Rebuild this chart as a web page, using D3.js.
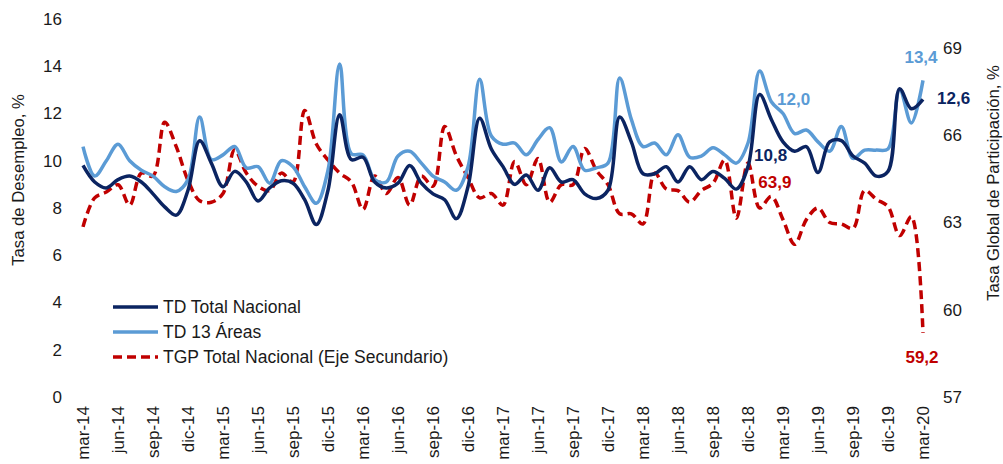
<!DOCTYPE html>
<html>
<head>
<meta charset="utf-8">
<script src="https://cdn.jsdelivr.net/npm/d3@7"></script>
<style>
  html, body { margin: 0; padding: 0; background: #fff; }
  svg { display: block; font-family: "Liberation Sans", Arial, sans-serif; }
</style>
</head>
<body>
<svg id="chart" width="1003" height="464"></svg>
<script>
// ---- Data ----
const monthNames = ["ene","feb","mar","abr","may","jun","jul","ago","sep","oct","nov","dic"];
// monthly categories mar-14 .. mar-20
const categories = [];
for (let k = 0; k < 73; k++) {
  const m = (2 + k) % 12;
  const yr = 14 + Math.floor((2 + k) / 12);
  categories.push(monthNames[m] + "-" + yr);
}
const tickLabels = ["mar-14","jun-14","sep-14","dic-14","mar-15","jun-15","sep-15","dic-15",
  "mar-16","jun-16","sep-16","dic-16","mar-17","jun-17","sep-17","dic-17",
  "mar-18","jun-18","sep-18","dic-18","mar-19","jun-19","sep-19","dic-19","mar-20"];

const tdNacional = [
  9.8, 9.1, 8.85, 9.2, 9.35, 9.1, 8.6, 8.05, 7.7, 8.75,
  10.85, 9.9, 8.9, 9.55, 9.1, 8.3, 8.85, 9.15, 9.05, 8.35,
  7.3, 8.75, 11.95, 10.05, 10.15, 9.1, 8.85, 9.05, 9.8, 9.05,
  8.6, 8.35, 7.55, 8.9, 11.8, 10.5, 9.75, 9.0, 9.4, 8.75,
  9.7, 9.1, 9.2, 8.6, 8.4, 8.75, 11.85, 10.8, 9.45, 9.45,
  9.75, 9.1, 9.75, 9.2, 9.55, 9.25, 8.8, 9.75, 12.8, 11.75,
  10.8, 10.4, 10.6, 9.5, 10.8, 10.85, 10.2, 9.9, 9.35, 9.55,
  13.05, 12.2, 12.6
];
const td13Areas = [
  10.6, 9.35, 10.0, 10.7, 10.0, 9.6, 9.35, 8.9, 8.7, 9.2,
  11.85, 10.05, 10.25, 10.6, 9.7, 9.75, 9.05, 10.0, 9.75, 8.9,
  8.2, 9.6, 14.1, 10.3, 10.25, 9.2, 9.1, 10.2, 10.4, 9.9,
  9.35, 9.1, 8.75, 9.75, 13.45, 11.05, 10.7, 10.75, 10.25, 10.9,
  11.4, 9.95, 10.6, 9.6, 9.7, 9.9, 13.5, 11.75, 10.6, 10.75,
  10.25, 11.1, 10.15, 10.2, 10.55, 10.25, 9.9, 10.75, 13.8, 12.5,
  12.0, 11.15, 11.3, 10.8, 10.4, 11.45, 10.1, 10.45, 10.45, 10.5,
  13.0, 11.6, 13.4
];
const tgpNacional = [
  62.85, 63.85, 64.05, 64.3, 63.6, 64.7, 64.6, 66.45, 65.6, 64.45,
  63.75, 63.7, 64.0, 65.5, 64.7, 64.25, 64.1, 64.7, 64.4, 66.85,
  65.7, 65.15, 64.7, 64.4, 63.45, 64.6, 64.0, 64.55, 63.6, 64.6,
  64.25, 66.3, 65.3, 64.55, 63.85, 64.0, 63.6, 65.1, 64.3, 65.2,
  63.7, 64.3, 64.3, 65.55, 64.8, 64.3, 63.3, 63.3, 62.95, 64.7,
  64.15, 64.1, 63.7, 64.1, 64.35, 65.15, 63.15, 65.05, 63.5, 63.9,
  63.1, 62.25, 63.1, 63.5, 63.0, 62.95, 62.8, 64.1, 63.8, 63.55,
  62.55, 63.2, 59.2
];
const leftTicks = [0, 2, 4, 6, 8, 10, 12, 14, 16];
const rightTicks = [57, 60, 63, 66, 69];
const seriesNames = ["TD Total Nacional", "TD 13 Áreas", "TGP Total Nacional (Eje Secundario)"];

// ---- Styles ----
const cNavy = "#0b2461", cLight = "#5b9bd5", cRed = "#c00000", cText = "#1a1a1a";

const svg = d3.select("#chart");
const x = d3.scaleLinear().domain([0, categories.length - 1]).range([83, 923]);
const yL = d3.scaleLinear().domain([0, 16]).range([397, 19]);
const yR = d3.scaleLinear().domain([57, 70]).range([397, 19]);

// Left axis
const gL = svg.append("g").attr("transform", "translate(62,0)")
  .call(d3.axisLeft(yL).tickValues(leftTicks).tickSize(0).tickPadding(0).tickFormat(d3.format("d")));
gL.select(".domain").remove();
gL.selectAll("text").attr("font-size", 17).attr("fill", cText).attr("font-family", "Liberation Sans, Arial, sans-serif");

// Right axis
const gR = svg.append("g").attr("transform", "translate(943,0)")
  .call(d3.axisRight(yR).tickValues(rightTicks).tickSize(0).tickPadding(0).tickFormat(d3.format("d")));
gR.select(".domain").remove();
gR.selectAll("text").attr("font-size", 17).attr("fill", cText).attr("font-family", "Liberation Sans, Arial, sans-serif");

// Bottom axis (labels every 3 months)
const tickIdx = tickLabels.map(t => categories.indexOf(t));
const gB = svg.append("g").attr("transform", "translate(0,406)")
  .call(d3.axisBottom(x).tickValues(tickIdx).tickSize(0).tickPadding(0)
    .tickFormat(i => categories[i]));
gB.select(".domain").remove();
gB.selectAll("text")
  .attr("font-size", 17).attr("fill", cText).attr("font-family", "Liberation Sans, Arial, sans-serif")
  .attr("text-anchor", "end")
  .attr("transform", "rotate(-90)")
  .attr("x", 0).attr("y", 0).attr("dy", "0.35em");

// Axis titles
svg.append("text").attr("transform", "translate(24,180) rotate(-90)")
  .attr("text-anchor", "middle").attr("font-size", 16.7).attr("fill", cText)
  .text("Tasa de Desempleo, %");
svg.append("text").attr("transform", "translate(999,183) rotate(-90)")
  .attr("text-anchor", "middle").attr("font-size", 16.7).attr("fill", cText)
  .text("Tasa Global de Participación, %");

// Lines
const lineL = d3.line().x((d, i) => x(i)).y(d => yL(d)).curve(d3.curveCatmullRom.alpha(0.5));
const lineR = d3.line().x((d, i) => x(i)).y(d => yR(d)).curve(d3.curveCatmullRom.alpha(0.5));

svg.append("path").datum(tgpNacional).attr("d", lineR)
  .attr("fill", "none").attr("stroke", cRed).attr("stroke-width", 3.5)
  .attr("stroke-dasharray", "9,5");
svg.append("path").datum(td13Areas).attr("d", lineL)
  .attr("fill", "none").attr("stroke", cLight).attr("stroke-width", 3.5);
svg.append("path").datum(tdNacional).attr("d", lineL)
  .attr("fill", "none").attr("stroke", cNavy).attr("stroke-width", 3.5);

// Data labels
const fmt = v => d3.format(".1f")(v).replace(".", ",");
const lab = (txt, px, py, color, anchor) => svg.append("text")
  .attr("x", px).attr("y", py).attr("dy", "0.35em")
  .attr("text-anchor", anchor).attr("font-weight", "bold").attr("font-size", 17)
  .attr("fill", color).text(txt);
const last = categories.length - 1;
lab(fmt(td13Areas[last]), x(last) - 2, yL(td13Areas[last]) - 23, cLight, "middle");
lab(fmt(tdNacional[last]), x(last) + 14, yL(tdNacional[last]) - 1, cNavy, "start");
lab(fmt(tgpNacional[last]), x(last) - 1, yR(tgpNacional[last]) + 24, cRed, "middle");
const i60 = categories.indexOf("mar-19");
lab(fmt(td13Areas[i60]), x(i60) - 6, yL(td13Areas[i60]) - 14, cLight, "start");
lab(fmt(tdNacional[i60]), x(i60) - 29, yL(tdNacional[i60]) + 13, cNavy, "start");
const i59 = categories.indexOf("feb-19");
lab(fmt(tgpNacional[i59]), x(i59) - 13, yR(tgpNacional[i59]) - 14, cRed, "start");

// Legend
const legend = [
  { name: seriesNames[0], color: cNavy, dash: null },
  { name: seriesNames[1], color: cLight, dash: null },
  { name: seriesNames[2], color: cRed, dash: "9,5" }
];
legend.forEach((d, k) => {
  const ly = 307 + k * 25;
  svg.append("line").attr("x1", 113).attr("x2", 158).attr("y1", ly).attr("y2", ly)
    .attr("stroke", d.color).attr("stroke-width", 3.5)
    .attr("stroke-dasharray", d.dash);
  svg.append("text").attr("x", 163).attr("y", ly).attr("dy", "0.35em")
    .attr("font-size", 17.5).attr("fill", cText).text(d.name);
});
</script>
</body>
</html>
